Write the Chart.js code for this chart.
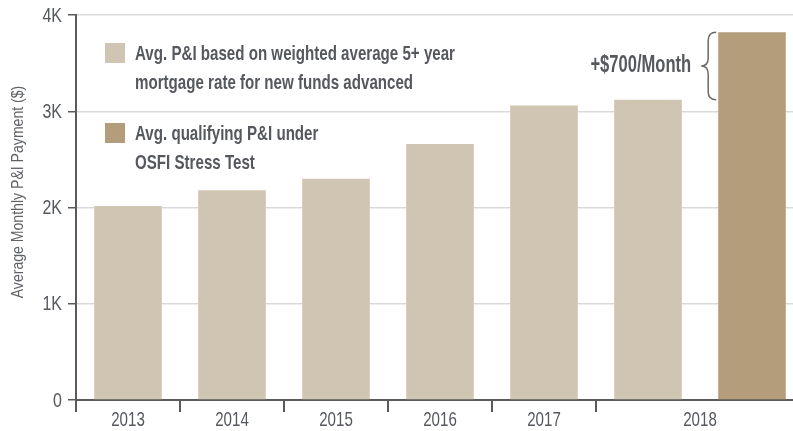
<!DOCTYPE html>
<html>
<head>
<meta charset="utf-8">
<script src="https://cdn.jsdelivr.net/npm/chart.js@4/dist/chart.umd.min.js"></script>
<style>
  html, body { margin: 0; padding: 0; background: #fff; overflow: hidden; }
  .wrap { position: relative; width: 804px; height: 431px; }
</style>
</head>
<body>
<div class="wrap"><canvas id="c"></canvas></div>
<script>
const categories = ['2013', '2014', '2015', '2016', '2017', '2018', '2018'];
const avgPayment = [2015, 2180, 2300, 2660, 3060, 3120, null];
const stressPayment = [null, null, null, null, null, null, 3820];
const yTickValues = [0, 1000, 2000, 3000, 4000];
const yTitle = 'Average Monthly P&I Payment ($)';
const legendLines = [
  ['Avg. P&I based on weighted average 5+ year', 'mortgage rate for new funds advanced'],
  ['Avg. qualifying P&I under', 'OSFI Stress Test']
];
const diffLabel = '+$700/Month';

const FONT = "'Liberation Sans', Arial, sans-serif";
const TEXT = '#55585d';
const AXIS = '#5a5a5a';
const LIGHT = '#d0c5b2';
const DARK = '#b39d7b';

// the source uses a condensed face, so squeeze text horizontally
function squeezed(ctx, text, x, y, sx, align) {
  ctx.save();
  ctx.translate(x, y);
  ctx.scale(sx, 1);
  ctx.textAlign = align;
  ctx.fillText(text, 0, 0);
  ctx.restore();
}

const extras = {
  id: 'extras',
  afterDraw(chart) {
    const ctx = chart.ctx;
    const x = chart.scales.x;
    const y = chart.scales.y;
    const half = (x.getPixelForValue(1) - x.getPixelForValue(0)) / 2;
    const base = y.getPixelForValue(0);

    ctx.save();
    ctx.textBaseline = 'middle';

    // y tick labels
    ctx.fillStyle = TEXT;
    ctx.font = '20px ' + FONT;
    yTickValues.forEach(v => {
      const t = v === 0 ? '0' : (v / 1000) + 'K';
      squeezed(ctx, t, 62, y.getPixelForValue(v) + 1, 0.8, 'right');
    });

    // y title
    ctx.save();
    ctx.translate(19, 192);
    ctx.rotate(-Math.PI / 2);
    ctx.fillStyle = '#5f6266';
    ctx.font = '16px ' + FONT;
    squeezed(ctx, yTitle, 0, 0, 0.88, 'center');
    ctx.restore();

    // x labels, repeated years merged into one group
    const groups = [];
    categories.forEach((c, i) => {
      const g = groups[groups.length - 1];
      if (g && g.label === c) g.end = i; else groups.push({ label: c, start: i, end: i });
    });
    ctx.strokeStyle = AXIS;
    ctx.lineWidth = 2;
    ctx.font = '21px ' + FONT;
    groups.forEach(g => {
      const left = x.getPixelForValue(g.start) - half;
      ctx.beginPath();
      ctx.moveTo(left, base);
      ctx.lineTo(left, base + 12);
      ctx.stroke();
      const mid = (x.getPixelForValue(g.start) + x.getPixelForValue(g.end)) / 2;
      squeezed(ctx, g.label, mid, base + 20, 0.72, 'center');
    });

    // legend
    ctx.font = 'bold 21px ' + FONT;
    const sx = 320 / ctx.measureText(legendLines[0][0]).width;
    const colors = [LIGHT, DARK];
    const tops = [43, 123];
    legendLines.forEach((lines, i) => {
      ctx.fillStyle = colors[i];
      ctx.fillRect(105, tops[i], 20, 20);
      ctx.fillStyle = TEXT;
      lines.forEach((t, j) => squeezed(ctx, t, 135, tops[i] + 11 + j * 29, sx, 'left'));
    });

    // brace between the last two bars
    const bar = chart.getDatasetMeta(1).data[6];
    const top = y.getPixelForValue(stressPayment[6]);
    const bot = y.getPixelForValue(avgPayment[5]);
    const mid = (top + bot) / 2;
    const xr = bar.x - bar.width / 2 - 2;
    const xm = xr - 8;
    const xt = xr - 15;
    const r = 8;
    ctx.strokeStyle = '#6a6a6a';
    ctx.lineWidth = 1.5;
    ctx.beginPath();
    ctx.moveTo(xr, top);
    ctx.quadraticCurveTo(xm, top, xm, top + r);
    ctx.lineTo(xm, mid - r);
    ctx.quadraticCurveTo(xm, mid, xt, mid);
    ctx.quadraticCurveTo(xm, mid, xm, mid + r);
    ctx.lineTo(xm, bot - r);
    ctx.quadraticCurveTo(xm, bot, xr, bot);
    ctx.stroke();
    ctx.fillStyle = TEXT;
    ctx.font = 'bold 23px ' + FONT;
    squeezed(ctx, diffLabel, xt - 10, mid, sx, 'right');
    ctx.restore();
  }
};

new Chart(document.getElementById('c'), {
  type: 'bar',
  data: {
    labels: categories,
    datasets: [
      { label: legendLines[0].join(' '), data: avgPayment, backgroundColor: LIGHT },
      { label: legendLines[1].join(' '), data: stressPayment, backgroundColor: DARK }
    ]
  },
  options: {
    responsive: true,
    maintainAspectRatio: false,
    animation: false,
    grouped: false,
    barPercentage: 0.65,
    categoryPercentage: 1,
    layout: { padding: { top: 15, right: 0, left: 0, bottom: 0 } },
    plugins: {
      legend: { display: false },
      tooltip: { enabled: false }
    },
    scales: {
      x: {
        offset: true,
        grid: { display: false },
        border: { display: true, color: AXIS, width: 2 },
        ticks: { display: false },
        afterFit(scale) { scale.height = 31; }
      },
      y: {
        min: 0,
        max: 4000,
        afterBuildTicks(scale) { scale.ticks = yTickValues.map(v => ({ value: v })); },
        afterFit(scale) { scale.width = 76; },
        border: { display: true, color: AXIS, width: 2 },
        grid: { color: '#d9d9d9', lineWidth: 1.5, tickColor: AXIS, tickLength: 8 },
        ticks: { display: false }
      }
    }
  },
  plugins: [extras]
});
</script>
</body>
</html>
